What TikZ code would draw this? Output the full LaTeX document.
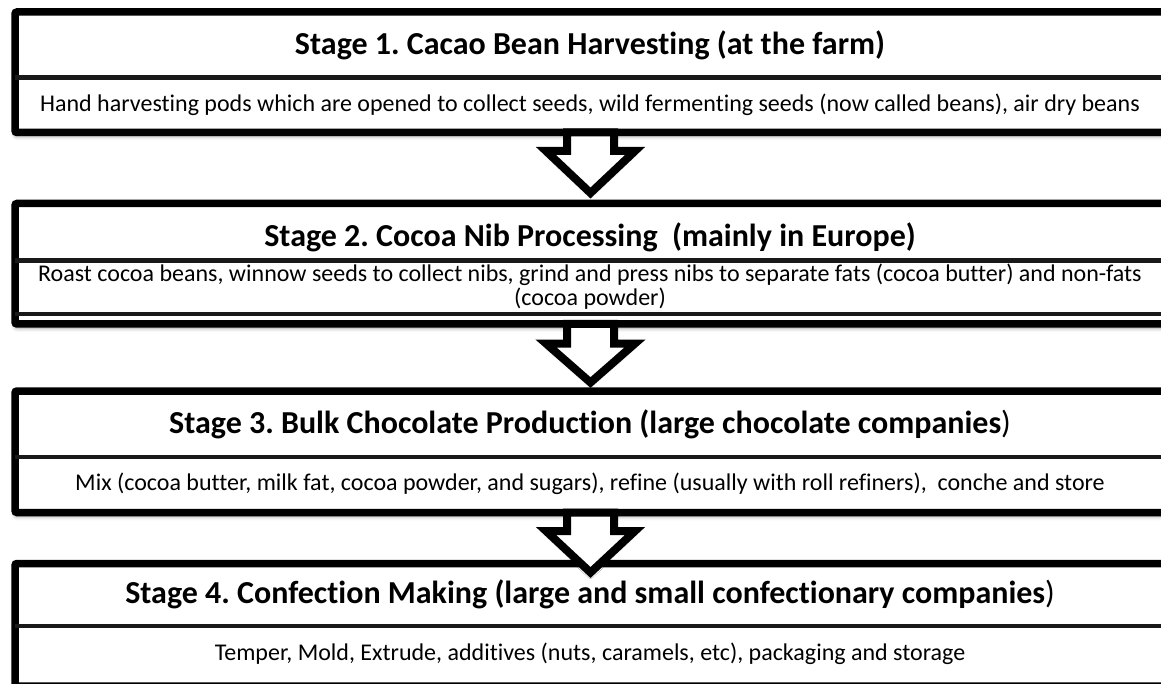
\documentclass[tikz,border=0pt]{standalone}
\usepackage{fontspec}
\setmainfont{Carlito}[Ligatures=NoCommon]
\usetikzlibrary{shadows.blur}
\frenchspacing
\begin{document}
\begin{tikzpicture}[x=1pt,y=-1pt,
  outerbox/.style={draw=black, line width=7.5pt, fill=white, rounded corners=2pt,
    blur shadow={shadow xshift=0pt, shadow yshift=-4pt, shadow blur radius=4pt, shadow opacity=40}},
  sepline/.style={draw=black!90, line width=4.5pt},
  blockarrow/.style={draw=black, line width=8pt, fill=white, miter limit=10,
    blur shadow={shadow xshift=0pt, shadow yshift=-3pt, shadow blur radius=3pt, shadow opacity=35}},
  ttl/.style={anchor=base, inner sep=0pt, font=\fontsize{32}{38}\selectfont\bfseries},
  bdy/.style={anchor=base, inner sep=0pt, font=\fontsize{24}{29}\selectfont}]
\useasboundingbox (0,0) rectangle (1161,684);
\clip (0,0) rectangle (1161,684);
% Stage 1
\draw[outerbox] (15,12) rectangle (1168,132.5);
\draw[sepline] (15,77.5) -- (1168,77.5);
\node[ttl] (t1) at (590,55) {Stage 1. Cacao Bean Harvesting (at the farm)};
\node[bdy] (b1) at (590,112) {Hand harvesting pods which are opened to collect seeds, wild fermenting seeds (now called beans), air dry beans};
% Stage 2
\draw[outerbox] (15,203.5) rectangle (1168,324);
\draw[sepline] (15,260.5) -- (1168,260.5);
\draw[draw=black!90, line width=4pt] (15,314.5) -- (1168,314.5);
\node[ttl] (t2) at (590,247) {Stage 2. Cocoa Nib Processing~ (mainly in Europe)};
\node[bdy] (b2a) at (590,282) {Roast cocoa beans, winnow seeds to collect nibs, grind and press nibs to separate fats (cocoa butter) and non-fats};
\node[bdy] (b2b) at (590,306) {(cocoa powder)};
% Stage 3
\draw[outerbox] (15,391) rectangle (1168,512.5);
\draw[sepline] (15,457) -- (1168,457);
\node[ttl] (t3) at (590,433) {Stage 3. Bulk Chocolate Production (large chocolate companies\mdseries)};
\node[bdy] (b3) at (590,490) {Mix (cocoa butter, milk fat, cocoa powder, and sugars), refine (usually with roll refiners),~ conche and store};
% Stage 4
\draw[outerbox] (15,563.5) rectangle (1168,686);
\draw[sepline] (15,626) -- (1168,626);
\node[ttl] (t4) at (590,603) {Stage 4. Confection Making (large and small confectionary companies\mdseries)};
\node[bdy] (b4) at (590,660) {Temper, Mold, Extrude, additives (nuts, caramels, etc), packaging and storage};
% arrows
\draw[blockarrow] (567,132.5) -- (567,151) -- (546,151) -- (590.5,193) -- (635,151) -- (614,151) -- (614,132.5) -- cycle;
\draw[blockarrow] (567,324) -- (567,343.5) -- (546,343.5) -- (590.5,382.5) -- (635,343.5) -- (614,343.5) -- (614,324) -- cycle;
\draw[blockarrow] (567,512.5) -- (567,531) -- (546,531) -- (590.5,572.5) -- (635,531) -- (614,531) -- (614,512.5) -- cycle;
\end{tikzpicture}
\end{document}
